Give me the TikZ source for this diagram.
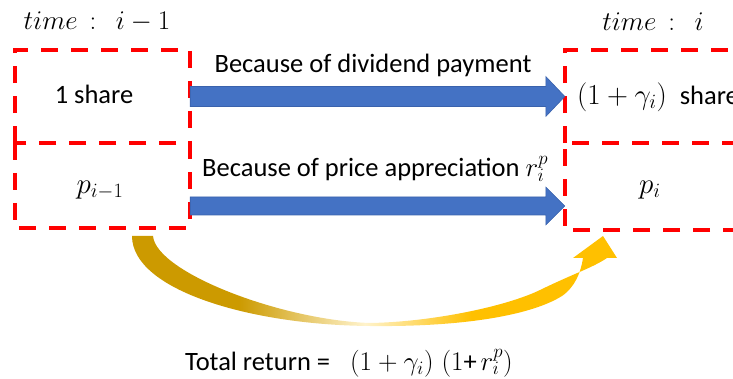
\RequirePackage{fix-cm}
\documentclass[tikz,border=0pt]{standalone}
\usepackage{fontspec}
\setmainfont{Carlito}
\usetikzlibrary{calc}
\definecolor{boxred}{HTML}{FF0000}
\definecolor{arrblue}{HTML}{4472C4}
\definecolor{arredge}{HTML}{3A62AC}
\definecolor{golddark}{HTML}{CC9A00}
\definecolor{goldpale}{HTML}{FFF3CC}
\definecolor{goldlight}{HTML}{FFC000}
\pgfdeclarehorizontalshading{goldshade}{100bp}{color(0bp)=(golddark); color(36bp)=(golddark); color(49bp)=(goldpale); color(60bp)=(goldlight); color(100bp)=(goldlight)}
\newcommand\MthAt[2]{{\fontsize{#1}{31}\selectfont$#2$}}
\tikzset{
  boxn/.style={minimum width=175pt, minimum height=93pt, inner sep=0pt, draw=none},
  redd/.style={draw=boxred, line width=3.5pt, dash pattern=on 17pt off 13pt},
  txt/.style={font=\fontsize{26.5}{31}\selectfont, inner sep=0pt},
  mth/.style={font=\fontsize{29}{31}\selectfont, inner sep=0pt},
  bluearr/.style={fill=arrblue, draw=arredge, line width=0.6pt},
}
\begin{document}
\begin{tikzpicture}[x=1pt,y=-1pt]
\useasboundingbox (0,0) rectangle (733,379);
% boxes
\node[boxn] (L1) at (102.5,96.5) {};
\node[boxn, minimum height=85pt] (L2) at (102.5,185.5) {};
\node[boxn] (R1) at (652.5,96.5) {};
\node[boxn, minimum height=87pt] (R2) at (652.5,186.5) {};
\draw[redd] (L1.south west) -- (L1.north west) -- (L1.north east) -- (L1.south east);
\draw[redd] (L2.north west) rectangle (L2.south east);
\draw[redd] (R1.south west) -- (R1.north west) -- (R1.north east);
\draw[redd] (R2.south east) -- (R2.south west) -- (R2.north west) -- (R2.north east);
% texts
\node[mth, font=\fontsize{27}{31}\selectfont] (time0) at (97,22) {$time\,:\;\,i-1$};
\node[mth, font=\fontsize{27}{31}\selectfont] (time1) at (653,22) {$time\,:\;\,i$};
\node[txt] (t1) at (94,94) {1 share};
\node[mth] (t2) at (100,190) {$p_{i-1}$};
\node[txt, anchor=west] (t3) at (577,97) {\MthAt{29}{(1+\gamma_i)}\hspace{13pt}share};
\node[mth] (t4) at (650,190) {$p_i$};
\node[txt, anchor=base] (lab1) at (373,73) {Because of dividend payment};
\node[txt, anchor=base west] (lab2) at (202,177) {Because of price appreciation \MthAt{27}{r_i^p}};
\node[txt, anchor=base west] (tot) at (185,370) {Total return =\hspace{20pt}\MthAt{27}{(1+\gamma_i)}\hspace{8pt}\MthAt{27}{(1}+\hspace{4pt}\MthAt{27}{r_i^p)}};
% blue arrows
\coordinate (a1s) at (L1.east);
\coordinate (a1e) at (R1.west);
\draw[bluearr] ([yshift=10pt]a1s) -- ([xshift=-19pt,yshift=10pt]a1e) -- ([xshift=-19pt,yshift=20pt]a1e) -- (a1e)
  -- ([xshift=-19pt,yshift=-20pt]a1e) -- ([xshift=-19pt,yshift=-10pt]a1e) -- ([yshift=-10pt]a1s) -- cycle;
\coordinate (a2s) at ([yshift=-20.5pt]L2.east);
\coordinate (a2e) at ([yshift=-19.5pt]R2.west);
\draw[bluearr] ([yshift=9pt]a2s) -- ([xshift=-19pt,yshift=9pt]a2e) -- ([xshift=-19pt,yshift=19pt]a2e) -- (a2e)
  -- ([xshift=-19pt,yshift=-19pt]a2e) -- ([xshift=-19pt,yshift=-9pt]a2e) -- ([yshift=-9pt]a2s) -- cycle;
% curved total-return arrow
\path[shading=goldshade]
  (132,236) .. controls (132,290) and (250,325) .. (370,326)
  .. controls (460,327) and (530,316) .. (562,296)
  .. controls (575,287) and (581,272) .. (583,258)
  -- (573,258) -- (603,236) -- (617,258) -- (607,258)
  .. controls (592,268) and (575,273) .. (540,290)
  .. controls (505,307) and (430,322) .. (370,323)
  .. controls (280,320) and (156,272) .. (153,236) -- cycle;
\end{tikzpicture}
\end{document}
